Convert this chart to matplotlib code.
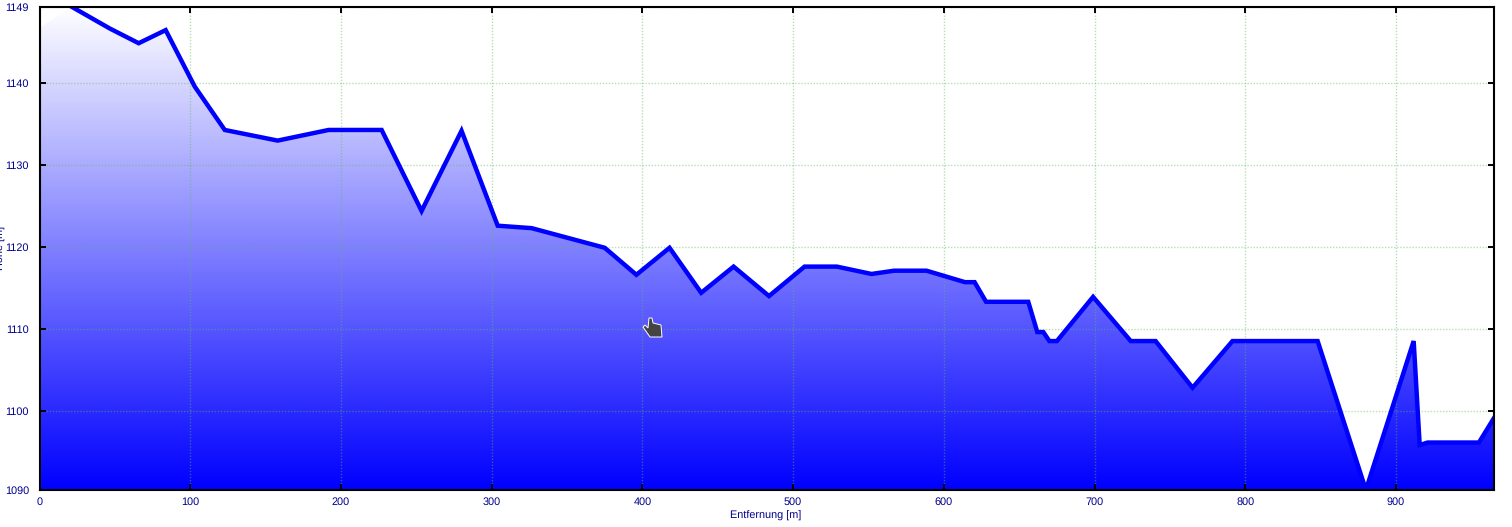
import numpy as np
import matplotlib
matplotlib.use('Agg')
import matplotlib.pyplot as plt
from matplotlib.patches import Polygon

plt.rcParams['font.family'] = ['Liberation Sans', 'DejaVu Sans']
plt.rcParams['text.hinting'] = 'none'

# profile, the line only starts at the second point
dist = [0, 21.4, 46.6, 65.8, 83.7, 103, 122.9, 158, 191.8, 227, 253.5, 280, 304,
        326.5, 375, 396, 418, 439, 460.5, 484, 507.6, 529, 552, 567, 588.5, 614,
        620.4, 628, 656, 662, 666, 670, 675, 699, 724, 740.5, 765, 791.5, 848,
        880, 911.7, 915.7, 921, 955, 965]
height = [1146.8, 1149.35, 1146.7, 1144.9, 1146.5, 1139.6, 1134.3, 1133.0, 1134.3,
          1134.3, 1124.4, 1134.2, 1122.6, 1122.3, 1119.9, 1116.6, 1119.9, 1114.4,
          1117.6, 1114.0, 1117.6, 1117.6, 1116.7, 1117.1, 1117.1, 1115.7, 1115.7,
          1113.3, 1113.3, 1109.6, 1109.6, 1108.5, 1108.5, 1113.9, 1108.5, 1108.5,
          1102.8, 1108.5, 1108.5, 1090.3, 1108.5, 1095.8, 1096.1, 1096.1, 1099.1]

x_ticks = [0, 100, 200, 300, 400, 500, 600, 700, 800, 900]
# the end ticks sit on the axis limits and carry rounded labels
y_ticks = [1090.3, 1100, 1110, 1120, 1130, 1140, 1149.35]
y_labels = ['1090', '1100', '1110', '1120', '1130', '1140', '1149']
x_max = 965
y_min, y_max = 1090.3, 1149.35

W, H = 1512, 527
text_col = '#00008b'

fig = plt.figure(figsize=(W / 100, H / 100), dpi=100)
ax = fig.add_axes([39.5 / W, 1 - 490 / H, 1454.5 / W, 483.2 / H])
ax.set_xlim(0, x_max)
ax.set_ylim(y_min, y_max)

# white to blue gradient, clipped to the area under the profile
grad = np.linspace(0, 1, 256)
img = np.ones((256, 1, 3))
img[:, 0, 0] = grad
img[:, 0, 1] = grad
im = ax.imshow(img, extent=[0, x_max, y_min, y_max], origin='lower', aspect='auto', zorder=1)
clip = Polygon(list(zip(dist, height)) + [(x_max, y_min), (0, y_min)], transform=ax.transData,
               facecolor='none', edgecolor='none')
ax.add_patch(clip)
im.set_clip_path(clip)

ax.grid(True, color='#5fb85f', alpha=0.45, linestyle=(0, (1, 1.2)), linewidth=1.0, zorder=2)
ax.set_axisbelow(False)
ax.plot(dist[1:], height[1:], color='#0000ff', linewidth=3.2, solid_joinstyle='miter', zorder=3)

ax.set_xticks(x_ticks)
ax.set_yticks(y_ticks)
ax.set_yticklabels(y_labels)
ax.tick_params(direction='in', top=True, right=True, length=4, width=1.4, color='black',
               labelcolor=text_col, labelsize=7.8)
ax.tick_params(axis='x', pad=5)
ax.tick_params(axis='y', pad=7.5)
for s in ax.spines.values():
    s.set_linewidth(1.5)
    s.set_zorder(5)

fig.text(766 / W, 1 - 516 / H, 'Entfernung [m]', color=text_col, fontsize=7.8, ha='center', va='center')
fig.text(1 / W, 1 - 248 / H, 'Höhe [m]', color=text_col, fontsize=7.8, rotation=90, ha='center', va='center')

# mouse pointer that was caught in the screenshot
hand = np.array([[649, 318], [652, 318], [653, 323], [661, 325], [662, 337], [650, 337],
                 [643, 327], [645, 325], [648, 328]], dtype=float)
hand[:, 0] /= W
hand[:, 1] = 1 - hand[:, 1] / H
fig.add_artist(Polygon(hand, closed=True, transform=fig.transFigure, facecolor='#444444',
                       edgecolor='white', linewidth=0.7, zorder=10))

fig.savefig('out.png', dpi=100)
